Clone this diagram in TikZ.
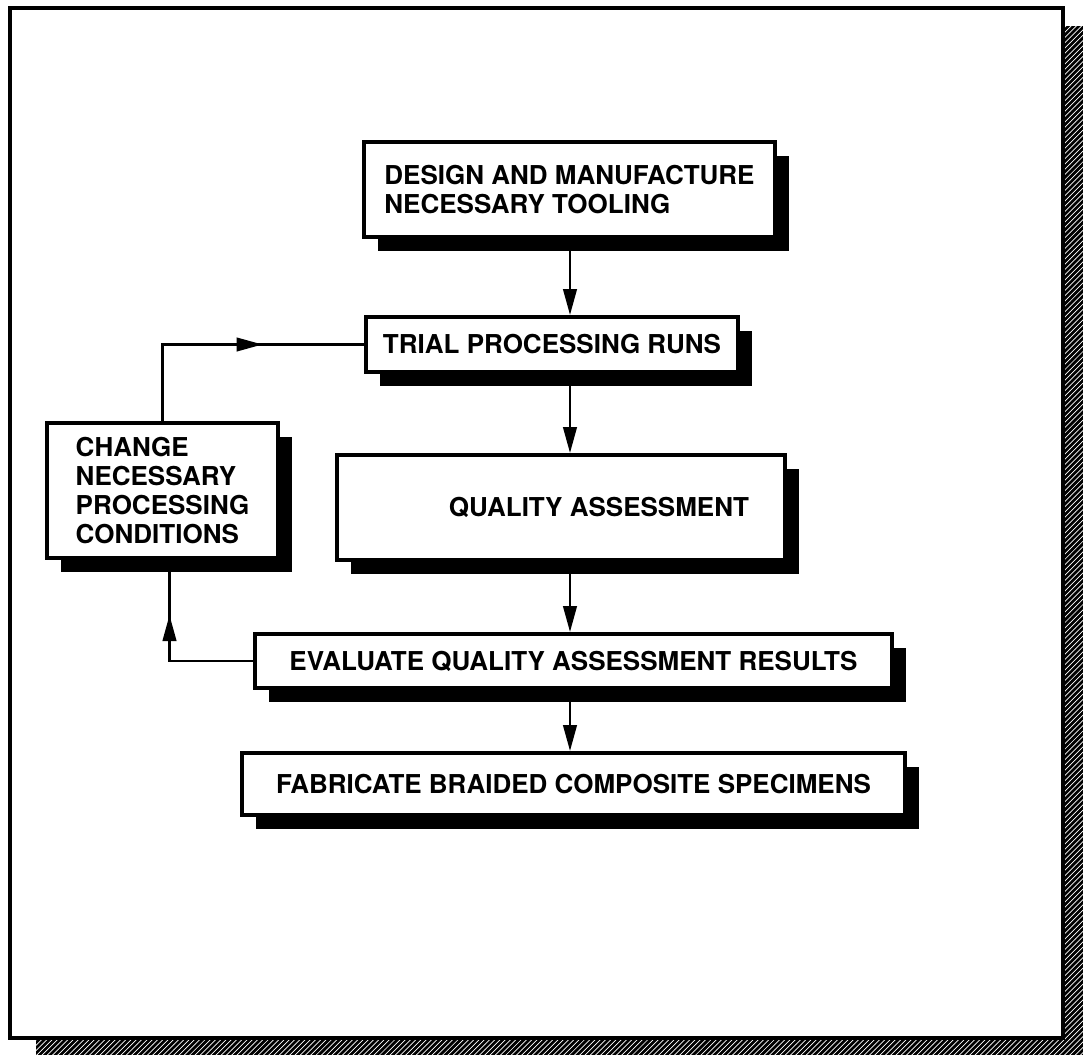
\documentclass[tikz,border=0pt]{standalone}
\usepackage{fontspec}
\setmainfont{TeX Gyre Heros}
\usetikzlibrary{shapes, calc, arrows.meta, positioning, shadows, patterns}
\tikzstyle{stepBox}=[draw, line width=2.2pt, fill=white, inner sep=0pt, drop shadow={shadow xshift=0.28cm, shadow yshift=-0.28cm, opacity=1, fill=black}, font=\bfseries\fontsize{14.8}{16.4}\selectfont]
\tikzstyle{leftBox}=[stepBox, align=left]
\tikzstyle{stateTransition}=[line width=1.5pt]
\tikzstyle{flow}=[stateTransition, -{Triangle[length=0.52cm, width=0.27cm]}]

\begin{document}
\begin{tikzpicture}[x=0.02cm, y=-0.02cm]
    \useasboundingbox (0, 0) rectangle (1083, 1055);
    % frame with hatched shadow
    \fill[black] (1063, 26) rectangle (1083, 1055);
    \fill[black] (36, 1038) rectangle (1083, 1055);
    \fill[pattern=north east lines, pattern color=white] (1063, 26) rectangle (1083, 1055);
    \fill[pattern=north east lines, pattern color=white] (36, 1038) rectangle (1063, 1055);
    \draw[line width=2.2pt] (10, 8) rectangle (1063, 1038);

    \node (design)[leftBox, minimum width=8.22cm, minimum height=1.9cm] at (569.5, 189.5) {DESIGN AND MANUFACTURE\\NECESSARY TOOLING};
    \node (trial)[stepBox, minimum width=7.44cm, minimum height=1.1cm] at (552, 344.5) {TRIAL PROCESSING RUNS};
    \node (quality)[stepBox, minimum width=8.96cm, minimum height=2.1cm] at (561, 507.5) {\hspace*{1.52cm}QUALITY ASSESSMENT};
    \node (change)[leftBox, minimum width=4.62cm, minimum height=2.7cm] at (162.5, 490.5) {CHANGE\\NECESSARY\\PROCESSING\\CONDITIONS};
    \node (evaluate)[stepBox, minimum width=12.74cm, minimum height=1.08cm] at (573.5, 661) {EVALUATE QUALITY ASSESSMENT RESULTS};
    \node (fabricate)[stepBox, minimum width=13.26cm, minimum height=1.24cm] at (573.5, 784) {FABRICATE BRAIDED COMPOSITE SPECIMENS};

    \coordinate (spine) at (570, 0);
    \draw[flow] (design.south -| spine) -- (trial.north -| spine);
    \draw[flow] (trial.south -| spine) -- (quality.north -| spine);
    \draw[flow] (quality.south -| spine) -- (evaluate.north -| spine);
    \draw[flow] (evaluate.south -| spine) -- (fabricate.north -| spine);

    % feedback loop
    \coordinate (back) at ($(change.south)+(7, 0)$);
    \draw[stateTransition] (evaluate.west) -| (back);
    \draw[flow] (evaluate.west -| back) -- ++(0, -46);
    \draw[stateTransition] (change.north) |- (trial.west);
    \draw[flow] (change.north |- trial.west) -- ++(100, 0);
\end{tikzpicture}
\end{document}
